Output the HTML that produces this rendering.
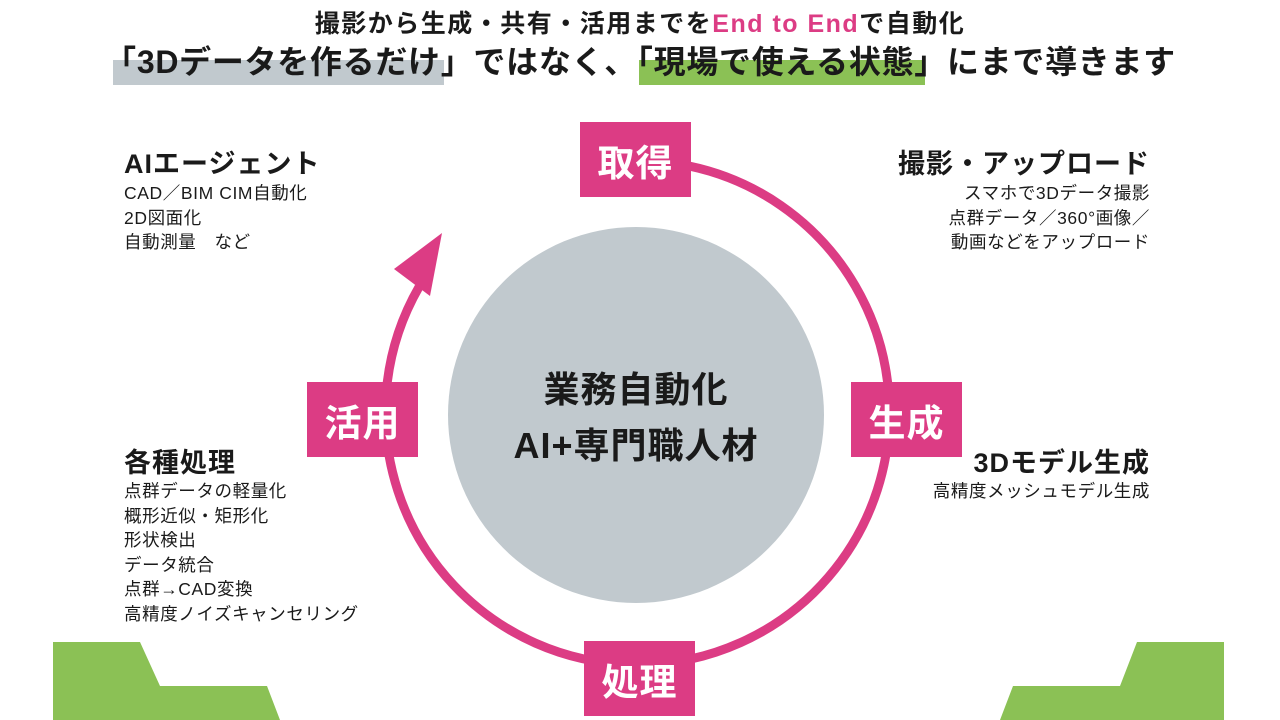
<!DOCTYPE html>
<html><head><meta charset="utf-8"><style>
body{margin:0;width:1280px;height:720px;background:#fff;overflow:hidden;position:relative;font-family:"Liberation Sans","Noto Sans CJK JP",sans-serif;color:#1a1a1a}
.a{position:absolute;white-space:nowrap}
.h{font-weight:bold}
.t{font-size:27px;letter-spacing:1px}
.s{font-size:17.5px;line-height:24.5px;letter-spacing:0.6px}
.box{position:absolute;background:#dc3c84;color:#fff;font-weight:bold;font-size:37px;display:flex;align-items:center;justify-content:center;width:111px;height:75px;letter-spacing:1px}
</style></head><body>
<svg width="1280" height="720" style="position:absolute;left:0;top:0">
<rect x="113" y="60" width="331" height="25" fill="#c1c9ce"/>
<rect x="639" y="60" width="286" height="25" fill="#8bc155"/>
<circle cx="636" cy="415" r="188" fill="#c1c9ce"/>
<path d="M689 166 A252 252 0 1 1 419 287" fill="none" stroke="#dc3c84" stroke-width="9"/>
<polygon points="442,233 394,269 430,296" fill="#dc3c84"/>
<polygon points="53,642 140,642 160,686 267,686 280,720 53,720" fill="#8bc155"/>
<polygon points="1224,642 1137,642 1120,686 1013,686 1000,720 1224,720" fill="#8bc155"/>
</svg>
<div class="a h" style="left:0;width:1280px;text-align:center;top:4px;font-size:25px;letter-spacing:1.5px">撮影から生成・共有・活用までを<span style="color:#dc3c84">End to End</span>で自動化</div>
<div class="a h" style="left:0;width:1280px;text-align:center;top:37px;font-size:32px;letter-spacing:0.7px">「3Dデータを作るだけ」ではなく、「現場で使える状態」にまで導きます</div>
<div class="box" style="left:580px;top:122px">取得</div>
<div class="box" style="left:851px;top:382px">生成</div>
<div class="box" style="left:584px;top:641px">処理</div>
<div class="box" style="left:307px;top:382px">活用</div>
<div class="a h" style="left:448px;width:376px;text-align:center;top:362px;font-size:36px;line-height:56px;letter-spacing:1px">業務自動化<br>AI+専門職人材</div>
<div class="a h t" style="left:124px;top:142px">AIエージェント</div>
<div class="a s" style="left:124px;top:181px">CAD／BIM CIM自動化<br>2D図面化<br>自動測量　など</div>
<div class="a h t" style="right:130px;top:142px">撮影・アップロード</div>
<div class="a s" style="right:130px;top:181px;text-align:right">スマホで3Dデータ撮影<br>点群データ／360°画像／<br>動画などをアップロード</div>
<div class="a h t" style="right:130px;top:441px">3Dモデル生成</div>
<div class="a s" style="right:130px;top:479px;text-align:right">高精度メッシュモデル生成</div>
<div class="a h t" style="left:124px;top:441px">各種処理</div>
<div class="a s" style="left:124px;top:479px">点群データの軽量化<br>概形近似・矩形化<br>形状検出<br>データ統合<br>点群→CAD変換<br>高精度ノイズキャンセリング</div>
</body></html>
